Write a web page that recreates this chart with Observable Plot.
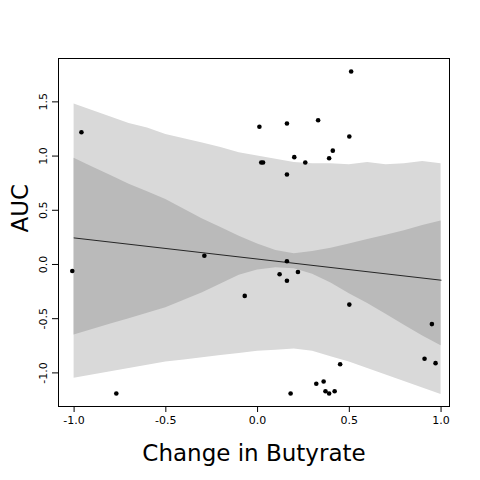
<!DOCTYPE html>
<html><head>
<meta charset="utf-8">
<script src="https://cdn.jsdelivr.net/npm/d3@7"></script>
<script src="https://cdn.jsdelivr.net/npm/@observablehq/plot@0.6"></script>
<style>body{margin:0;background:#fff}</style>
</head><body><div id="chart"></div>
<script>
const pointX = [-1.01,-0.96,-0.77,-0.29,-0.07,0.01,0.02,0.03,0.16,0.16,0.20,0.26,0.33,0.51,0.50,0.41,0.39,0.12,0.16,0.16,0.22,0.50,0.45,0.18,0.32,0.36,0.37,0.39,0.42,0.95,0.91,0.97];
const pointY = [-0.06,1.22,-1.19,0.08,-0.29,1.27,0.94,0.94,1.30,0.83,0.99,0.94,1.33,1.78,1.18,1.05,0.98,-0.09,0.03,-0.15,-0.07,-0.37,-0.92,-1.19,-1.10,-1.08,-1.17,-1.19,-1.17,-0.55,-0.87,-0.91];
const bandX   = [-1,-0.9,-0.8,-0.7,-0.6,-0.5,-0.4,-0.3,-0.2,-0.1,0,0.1,0.2,0.3,0.4,0.5,0.6,0.7,0.8,0.9,1];
const outerHi = [1.48,1.42,1.36,1.30,1.26,1.20,1.16,1.12,1.08,1.03,1.00,0.97,0.94,0.93,0.93,0.92,0.94,0.92,0.93,0.95,0.93];
const outerLo = [-1.05,-1.02,-0.99,-0.96,-0.93,-0.90,-0.88,-0.86,-0.84,-0.82,-0.80,-0.79,-0.78,-0.80,-0.85,-0.90,-0.96,-1.02,-1.08,-1.14,-1.20];
const innerHi = [0.98,0.90,0.82,0.74,0.67,0.60,0.51,0.42,0.34,0.26,0.19,0.13,0.10,0.12,0.15,0.19,0.23,0.27,0.31,0.36,0.40];
const innerLo = [-0.65,-0.60,-0.55,-0.50,-0.45,-0.40,-0.33,-0.26,-0.18,-0.10,-0.05,-0.03,-0.04,-0.09,-0.17,-0.27,-0.36,-0.46,-0.56,-0.66,-0.75];
const fitX = [-1, 1];
const fitY = [0.245, -0.145];

const pts = pointX.map((x, i) => ({x, y: pointY[i]}));
const band = bandX.map((x, i) => ({x, oh: outerHi[i], ol: outerLo[i], ih: innerHi[i], il: innerLo[i]}));
const fit = fitX.map((x, i) => ({x, y: fitY[i]}));
const fmt = d => d.toFixed(1);

const chart = Plot.plot({
  width: 480, height: 480,
  marginLeft: 58, marginRight: 31, marginTop: 58, marginBottom: 74,
  style: {fontFamily: "DejaVu Sans", fontSize: "11px", color: "#000"},
  x: {domain: [-1.085, 1.046], label: null},
  y: {domain: [-1.31, 1.90], label: null},
  marks: [
    Plot.areaY(band, {x: "x", y1: "ol", y2: "oh", fill: "#d9d9d9"}),
    Plot.areaY(band, {x: "x", y1: "il", y2: "ih", fill: "#bababa"}),
    Plot.line(fit, {x: "x", y: "y", stroke: "#000", strokeWidth: 0.8}),
    Plot.dot(pts, {x: "x", y: "y", r: 2.3, fill: "#000"}),
    Plot.frame({stroke: "#000"}),
    Plot.axisX({ticks: [-1, -0.5, 0, 0.5, 1], tickFormat: fmt, tickSize: 6, tickPadding: 4}),
    Plot.axisY({ticks: [-1, -0.5, 0, 0.5, 1, 1.5], tickFormat: fmt, tickSize: 6, tickRotate: -90, tickPadding: 6}),
    Plot.text(["Change in Butyrate"], {frameAnchor: "bottom", dy: 54, fontSize: 23, textAnchor: "middle"}),
    Plot.text(["AUC"], {frameAnchor: "left", dx: -38, rotate: -90, fontSize: 23})
  ]
});
document.getElementById("chart").append(chart);
</script>
</body></html>
